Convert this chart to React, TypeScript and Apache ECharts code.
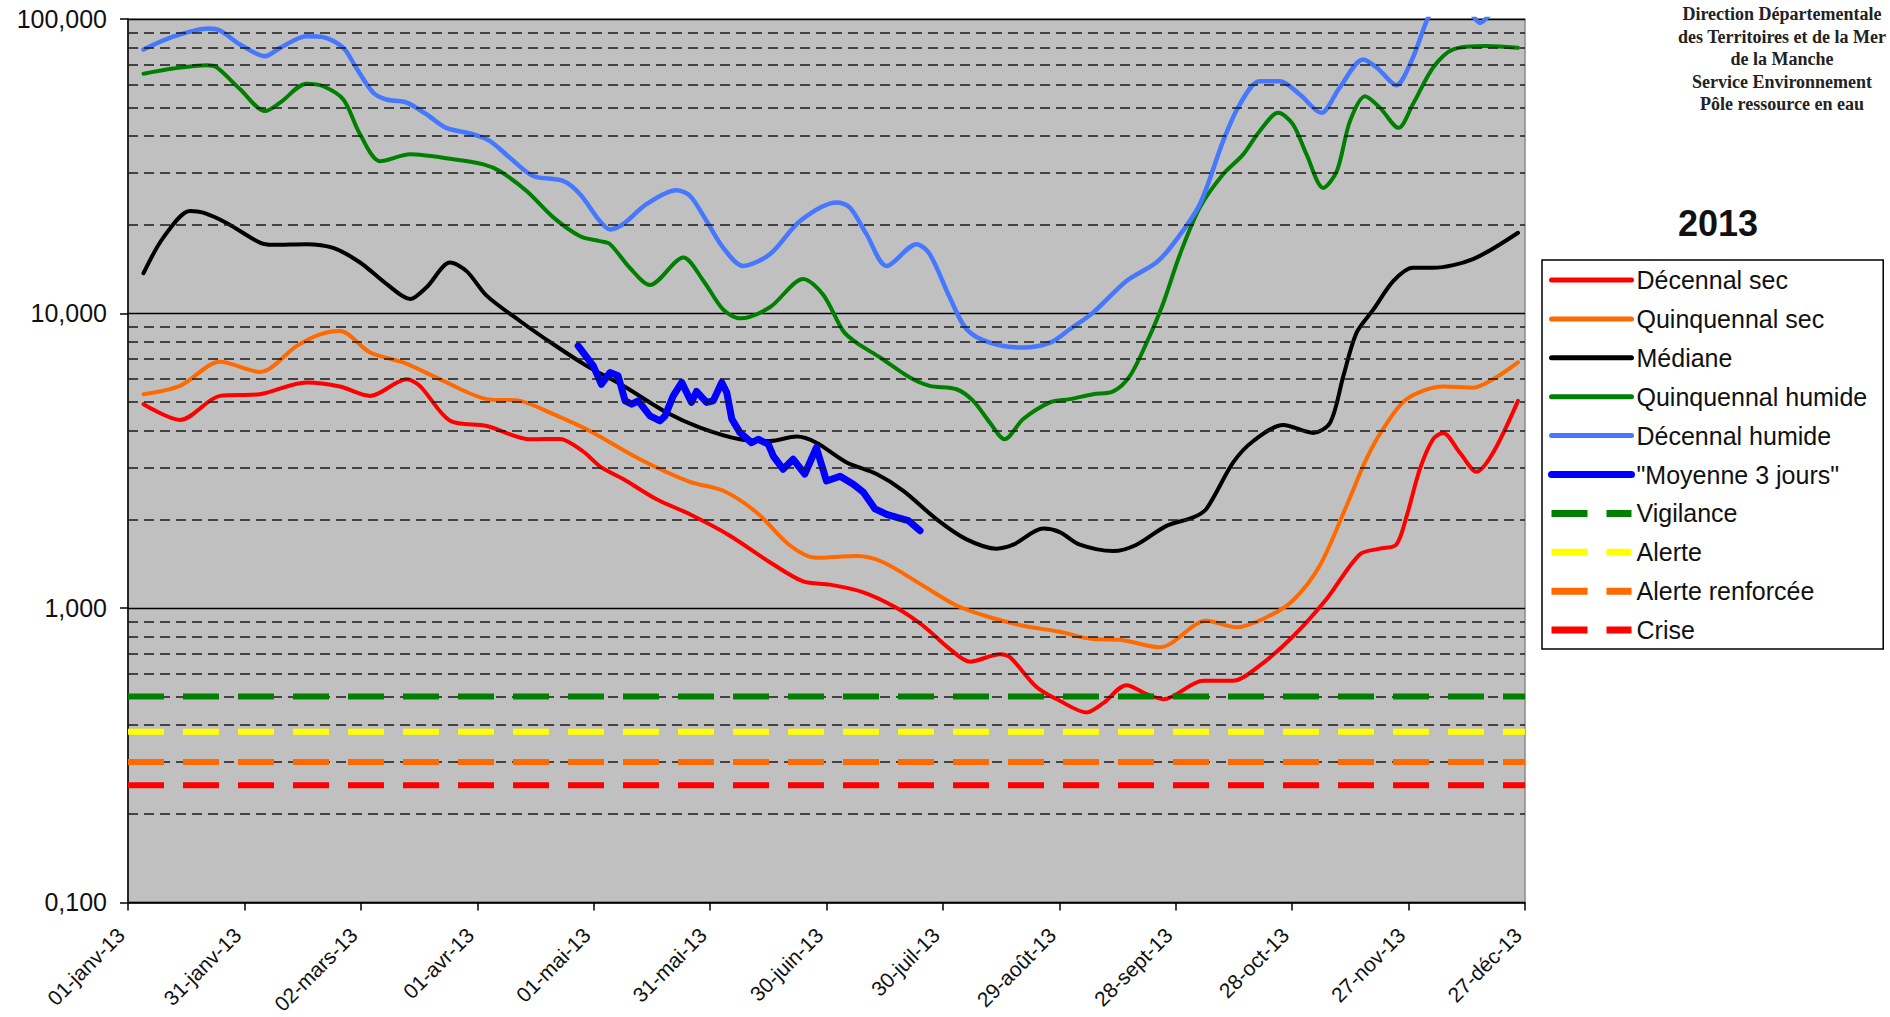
import React, { useEffect, useRef } from 'react';
import * as echarts from 'echarts';

// ---------- DATA ----------
const X_TICK_LABELS = [
  '01-janv-13', '31-janv-13', '02-mars-13', '01-avr-13', '01-mai-13', '31-mai-13',
  '30-juin-13', '30-juil-13', '29-août-13', '28-sept-13', '28-oct-13', '27-nov-13', '27-déc-13',
];
const X_MAX_DAY = 360;
const X_TICK_STEP = 30;
const Y_MIN = 0.1;
const Y_MAX = 100;
const MINOR_GRID_VALUES = [0.2, 0.3, 0.4, 0.5, 0.6, 0.7, 0.8, 0.9, 2, 3, 4, 5, 6, 7, 8, 9, 20, 30, 40, 50, 60, 70, 80, 90];

const HEADER_LINES = [
  'Direction Départementale',
  'des Territoires et de la Mer',
  'de la Manche',
  'Service Environnement',
  'Pôle ressource en eau',
];
const YEAR_TITLE = '2013';

// [day, value m3/s]
const DECENNAL_SEC: [number, number][] = [
  [4, 4.92], [13.4, 4.35], [23.7, 5.25], [34, 5.32], [46, 5.83], [54.6, 5.65], [62.4, 5.25], [71.8, 5.98],
  [75.2, 5.68], [83, 4.32], [92.4, 4.15], [103.6, 3.74], [111.3, 3.75], [117, 3.42], [122, 3.0], [127.6, 2.74],
  [136.2, 2.34], [144.8, 2.08], [155.1, 1.76], [165.4, 1.43], [174, 1.23], [180.9, 1.2], [189.5, 1.13],
  [198.1, 1.0], [204.9, 0.87], [211.8, 0.725], [217, 0.657], [224.7, 0.697], [227.3, 0.68], [234.2, 0.538],
  [240.1, 0.484], [247, 0.442], [251.3, 0.475], [257.3, 0.547], [262.5, 0.51], [266.8, 0.49], [277.1, 0.566],
  [284.8, 0.566], [291.6, 0.637], [300.2, 0.8], [308.8, 1.07], [317.4, 1.52], [322.6, 1.59], [326.8, 1.64],
  [329.5, 2.05], [332.9, 2.96], [336.3, 3.74], [338.9, 3.93], [343.2, 3.37], [347.5, 2.9], [351.8, 3.37],
  [358.2, 5.05],
];

const QUINQUENNAL_SEC: [number, number][] = [
  [4, 5.32], [13.4, 5.68], [23.7, 6.85], [34, 6.33], [43.5, 7.76], [49.5, 8.5], [54.6, 8.72], [62.4, 7.37],
  [70.9, 6.82], [79.5, 6.06], [92.4, 5.12], [101, 5.05], [109.6, 4.55], [119, 3.99], [131.9, 3.2],
  [144.8, 2.68], [153.4, 2.5], [162, 2.11], [170.6, 1.63], [177.4, 1.48], [187.7, 1.5], [194.6, 1.43],
  [204.9, 1.19], [213.5, 1.02], [222.1, 0.93], [230.7, 0.87], [240.1, 0.83], [248.7, 0.784], [255.6, 0.78],
  [265.9, 0.735], [277.9, 0.905], [285.6, 0.86], [293.4, 0.93], [300.2, 1.06], [307.1, 1.39], [314, 2.22],
  [319.1, 3.2], [323.4, 4.05], [329.5, 5.12], [338.9, 5.65], [346.6, 5.6], [351.8, 5.98], [358.2, 6.82],
];

const MEDIANE: [number, number][] = [
  [4, 13.7], [9.1, 18.1], [16, 22.3], [19.4, 22], [25.4, 20.3], [34, 17.4], [37.4, 17.1], [46, 17.2],
  [52.9, 16.7], [59.8, 14.9], [66.6, 12.6], [72.7, 11.2], [77, 12.3], [83, 14.9], [87.3, 13.9], [92.4, 11.5],
  [101, 9.43], [109.6, 7.86], [118.2, 6.64], [127.6, 5.68], [138.8, 4.61], [147.4, 4.1], [157.7, 3.74],
  [165.4, 3.69], [172.3, 3.82], [177.4, 3.64], [185.2, 3.12], [192.9, 2.85], [199.8, 2.5], [208.4, 2.0],
  [216.1, 1.71], [223.8, 1.59], [228.1, 1.64], [235.9, 1.86], [240.1, 1.81], [245.3, 1.64], [253.9, 1.56],
  [259.9, 1.64], [267.6, 1.9], [274.5, 2.03], [277.9, 2.17], [284.8, 3.12], [290, 3.69], [297.7, 4.18],
  [305.4, 3.93], [309.8, 4.26], [313.2, 6.14], [316.6, 8.61], [320.9, 10.3], [326.1, 12.9], [331.1, 14.3],
  [336.3, 14.3], [346.6, 15.3], [358.2, 18.8],
];

const QUINQUENNAL_HUMIDE: [number, number][] = [
  [4, 65.2], [11.6, 67.9], [20.3, 69.7], [22.8, 68.6], [28.9, 57.7], [35.3, 48.7], [39.2, 52], [46, 60.3],
  [50.3, 59.1], [55.5, 53.3], [59.8, 40.6], [65, 32.9], [72.7, 34.7], [83.9, 33.4], [91.6, 32.1], [95.9, 30.4],
  [102.8, 26], [109.6, 21.2], [116.5, 18.3], [121.6, 17.6], [124.2, 17.2], [129.3, 14.3], [134.5, 12.5],
  [143.1, 15.5], [148.3, 12.9], [153.4, 10.3], [157.7, 9.63], [165.4, 10.5], [174, 13.1], [179.1, 11.6],
  [184.3, 8.72], [187.7, 7.96], [193.8, 7.09], [201.5, 6.06], [206.6, 5.68], [213.5, 5.53], [217.8, 5.05],
  [222.1, 4.26], [225.9, 3.74], [230.7, 4.38], [237.6, 4.99], [242.7, 5.12], [248.7, 5.32], [253.9, 5.44],
  [258.2, 6.14], [262.5, 7.96], [266.5, 10.6], [271.1, 15.9], [276.2, 22.9], [282.2, 29.7], [287.4, 34.7],
  [291.6, 41.6], [296.4, 48], [300.2, 43.9], [303.7, 34.7], [308, 26.7], [311.5, 30.4], [314.9, 45],
  [318.8, 54.7], [322.6, 50], [327.4, 42.7], [331.1, 51.3], [336.3, 68.3], [341.5, 78.8], [350.1, 80.9],
  [358.2, 79.8],
];

const DECENNAL_HUMIDE: [number, number][] = [
  [4, 78.8], [12, 87.4], [20.7, 92.9], [23.7, 91.4], [28.9, 81.9], [35.3, 74.8], [39.2, 79.8], [46, 87.4],
  [50.3, 86.8], [55.5, 79.8], [58.8, 68.3], [63.2, 56.2], [66.6, 53.3], [71.8, 52], [77, 47.4], [82, 42.7],
  [89, 40.6], [93.3, 38.5], [98.4, 33.8], [104.4, 29.3], [112.1, 28.2], [116.5, 25.4], [121.6, 20.6],
  [124.2, 19.3], [127.6, 20.1], [133.6, 23.5], [141.3, 26.2], [144.8, 25.1], [149.1, 20.6], [153.4, 16.7],
  [158.5, 14.5], [165.4, 15.9], [173.2, 20.6], [182.6, 23.8], [186, 22.9], [190.3, 18.6], [195.5, 14.5],
  [203.2, 17.2], [206.6, 15.9], [211.8, 11.3], [216.1, 8.84], [222.1, 7.96], [230.7, 7.66], [237.6, 7.96],
  [242.7, 8.84], [248.7, 10.07], [257.3, 12.9], [265, 14.9], [269.3, 17.2], [276.2, 23.5], [282.2, 38.5],
  [286.5, 51.3], [291.6, 61.5], [296.8, 61.5], [302, 55.4], [307.5, 48], [312.2, 58.4], [318.3, 72.9],
  [322, 68], [326.8, 59.6], [331.1, 73.9], [334.6, 98], [338, 118], [342, 122], [345.5, 108], [348.4, 97],
  [352, 108], [358.2, 135],
];

const MOYENNE_3_JOURS: [number, number][] = [
  [116, 7.76], [119.9, 6.64], [122, 5.75], [124.2, 6.3], [126.3, 6.14], [128.1, 5.05], [129.8, 4.92],
  [131.5, 5.05], [134.5, 4.49], [137.1, 4.32], [138.4, 4.49], [140.5, 5.25], [142.7, 5.83], [145.2, 4.99],
  [146.5, 5.44], [149.1, 4.99], [150.8, 5.05], [153, 5.83], [154.3, 5.39], [155.6, 4.38], [157.7, 3.94],
  [160.7, 3.64], [162.4, 3.74], [165, 3.6], [166.3, 3.28], [168.8, 2.96], [171.4, 3.2], [174.4, 2.85],
  [177.4, 3.5], [180, 2.7], [183.5, 2.8], [186.9, 2.63], [189.5, 2.47], [192.5, 2.17], [195.5, 2.08],
  [198.1, 2.03], [201.1, 1.98], [204.1, 1.83],
];

const THRESHOLD_NAMES = ['Vigilance', 'Alerte', 'Alerte renforcée', 'Crise'];
const THRESHOLD_VALUES = [0.5, 0.38, 0.3, 0.25];

// ---------- STYLE ----------
const FONT = '"Liberation Sans", Arial, sans-serif';
const CURVES = [
  { name: 'Décennal sec', data: DECENNAL_SEC, color: '#ff0000', width: 4 },
  { name: 'Quinquennal sec', data: QUINQUENNAL_SEC, color: '#ff6a00', width: 4 },
  { name: 'Médiane', data: MEDIANE, color: '#000000', width: 4 },
  { name: 'Quinquennal humide', data: QUINQUENNAL_HUMIDE, color: '#008000', width: 4 },
  { name: 'Décennal humide', data: DECENNAL_HUMIDE, color: '#4678ff', width: 4.5 },
];
const THRESHOLD_COLORS = ['#008000', '#ffff00', '#ff6a00', '#ff0000'];

export default function App() {
  const ref = useRef<HTMLDivElement>(null);

  useEffect(() => {
    document.body.style.margin = '0';
    if (!ref.current) return;
    const chart = echarts.init(ref.current, undefined, { renderer: 'svg' });

    const series: any[] = [];

    series.push({
      name: '__grid',
      type: 'line',
      data: [],
      silent: true,
      z: 1,
      markLine: {
        silent: true,
        symbol: 'none',
        label: { show: false },
        animation: false,
        lineStyle: { color: '#1a1a1a', width: 1.7, type: [10, 6] },
        data: MINOR_GRID_VALUES.map((v) => ({ yAxis: v })),
      },
    });

    CURVES.forEach((c) => {
      series.push({
        name: c.name,
        type: 'line',
        data: c.data,
        smooth: 0.3,
        symbol: 'none',
        showSymbol: false,
        clip: true,
        z: 3,
        lineStyle: { color: c.color, width: c.width, cap: 'round', join: 'round' },
        itemStyle: { color: c.color },
      });
    });

    series.push({
      name: '"Moyenne 3 jours"',
      type: 'line',
      data: MOYENNE_3_JOURS,
      smooth: false,
      symbol: 'none',
      showSymbol: false,
      z: 4,
      lineStyle: { color: '#0000ff', width: 7, cap: 'round', join: 'round' },
      itemStyle: { color: '#0000ff' },
    });

    THRESHOLD_NAMES.forEach((name, i) => {
      series.push({
        name,
        type: 'line',
        data: [[0, THRESHOLD_VALUES[i]], [X_MAX_DAY, THRESHOLD_VALUES[i]]],
        symbol: 'none',
        showSymbol: false,
        z: 5,
        lineStyle: { color: THRESHOLD_COLORS[i], width: 6, type: [36, 19] },
        itemStyle: { color: THRESHOLD_COLORS[i] },
      });
    });

    const legendNames = [
      ...CURVES.map((c) => c.name),
      '"Moyenne 3 jours"',
      ...THRESHOLD_NAMES,
    ];
    const legendColors = [...CURVES.map((c) => c.color), '#0000ff', ...THRESHOLD_COLORS];

    chart.setOption({
      animation: false,
      backgroundColor: '#ffffff',
      grid: {
        left: 128,
        top: 19,
        right: 365,
        bottom: 114,
        show: true,
        backgroundColor: '#c0c0c0',
        borderColor: '#8a8a8a',
        borderWidth: 1.5,
        containLabel: false,
      },
      xAxis: {
        type: 'value',
        min: 0,
        max: X_MAX_DAY,
        interval: X_TICK_STEP,
        axisLine: { show: true, lineStyle: { color: '#000', width: 1.5 } },
        axisTick: { show: true, inside: false, length: 8, lineStyle: { color: '#000', width: 1.5 } },
        splitLine: { show: false },
        axisLabel: {
          rotate: 45,
          margin: 22,
          padding: [0, 10, 0, 0],
          fontSize: 21,
          fontFamily: FONT,
          color: '#111',
          showMinLabel: true,
          showMaxLabel: true,
          formatter: (v: number) => X_TICK_LABELS[Math.round(v / X_TICK_STEP)] ?? '',
        },
      },
      yAxis: {
        type: 'log',
        logBase: 10,
        min: Y_MIN,
        max: Y_MAX,
        axisLine: { show: true, lineStyle: { color: '#000', width: 1.5 } },
        axisTick: { show: true, inside: false, length: 8, lineStyle: { color: '#000', width: 1.5 } },
        splitLine: { show: true, lineStyle: { color: '#000', width: 1.3 } },
        axisLabel: {
          margin: 21,
          fontSize: 25,
          fontFamily: FONT,
          color: '#111',
          formatter: (v: number) => v.toFixed(3).replace('.', ','),
        },
      },
      legend: {
        show: true,
        orient: 'vertical',
        left: 1542,
        top: 260,
        padding: [5, 16, 4, 6],
        itemWidth: 80,
        itemHeight: 30,
        itemGap: 8.9,
        borderColor: '#000',
        borderWidth: 1.5,
        backgroundColor: '#fff',
        selectedMode: false,
        textStyle: { fontSize: 25, fontFamily: FONT, color: '#111', lineHeight: 30 },
        data: legendNames.map((name, i) => ({
          name,
          itemStyle: { color: 'rgba(0,0,0,0)', borderColor: 'rgba(0,0,0,0)', borderWidth: 0, opacity: 0 },
          lineStyle: {
            color: legendColors[i],
            width: i >= 5 ? 7 : 5,
            type: i >= 6 ? [36, 19] : 'solid',
            opacity: 1,
          },
        })),
      },
      graphic: [
        {
          type: 'text',
          x: 1782,
          y: 3,
          silent: true,
          style: {
            text: HEADER_LINES.join('\n'),
            fontSize: 18,
            fontWeight: 'bold',
            fontFamily: '"Liberation Serif", "Times New Roman", serif',
            fill: '#222',
            lineHeight: 22.5,
            textAlign: 'center',
            align: 'center',
            textVerticalAlign: 'top',
            verticalAlign: 'top',
          },
        },
        {
          type: 'text',
          x: 1718,
          y: 223,
          silent: true,
          style: {
            text: YEAR_TITLE,
            fontSize: 36,
            fontWeight: 'bold',
            fontFamily: FONT,
            fill: '#111',
            textAlign: 'center',
            align: 'center',
            textVerticalAlign: 'middle',
            verticalAlign: 'middle',
          },
        },
      ],
      series,
    });

    return () => {
      chart.dispose();
    };
  }, []);

  return <div ref={ref} style={{ width: 1890, height: 1017 }} />;
}
